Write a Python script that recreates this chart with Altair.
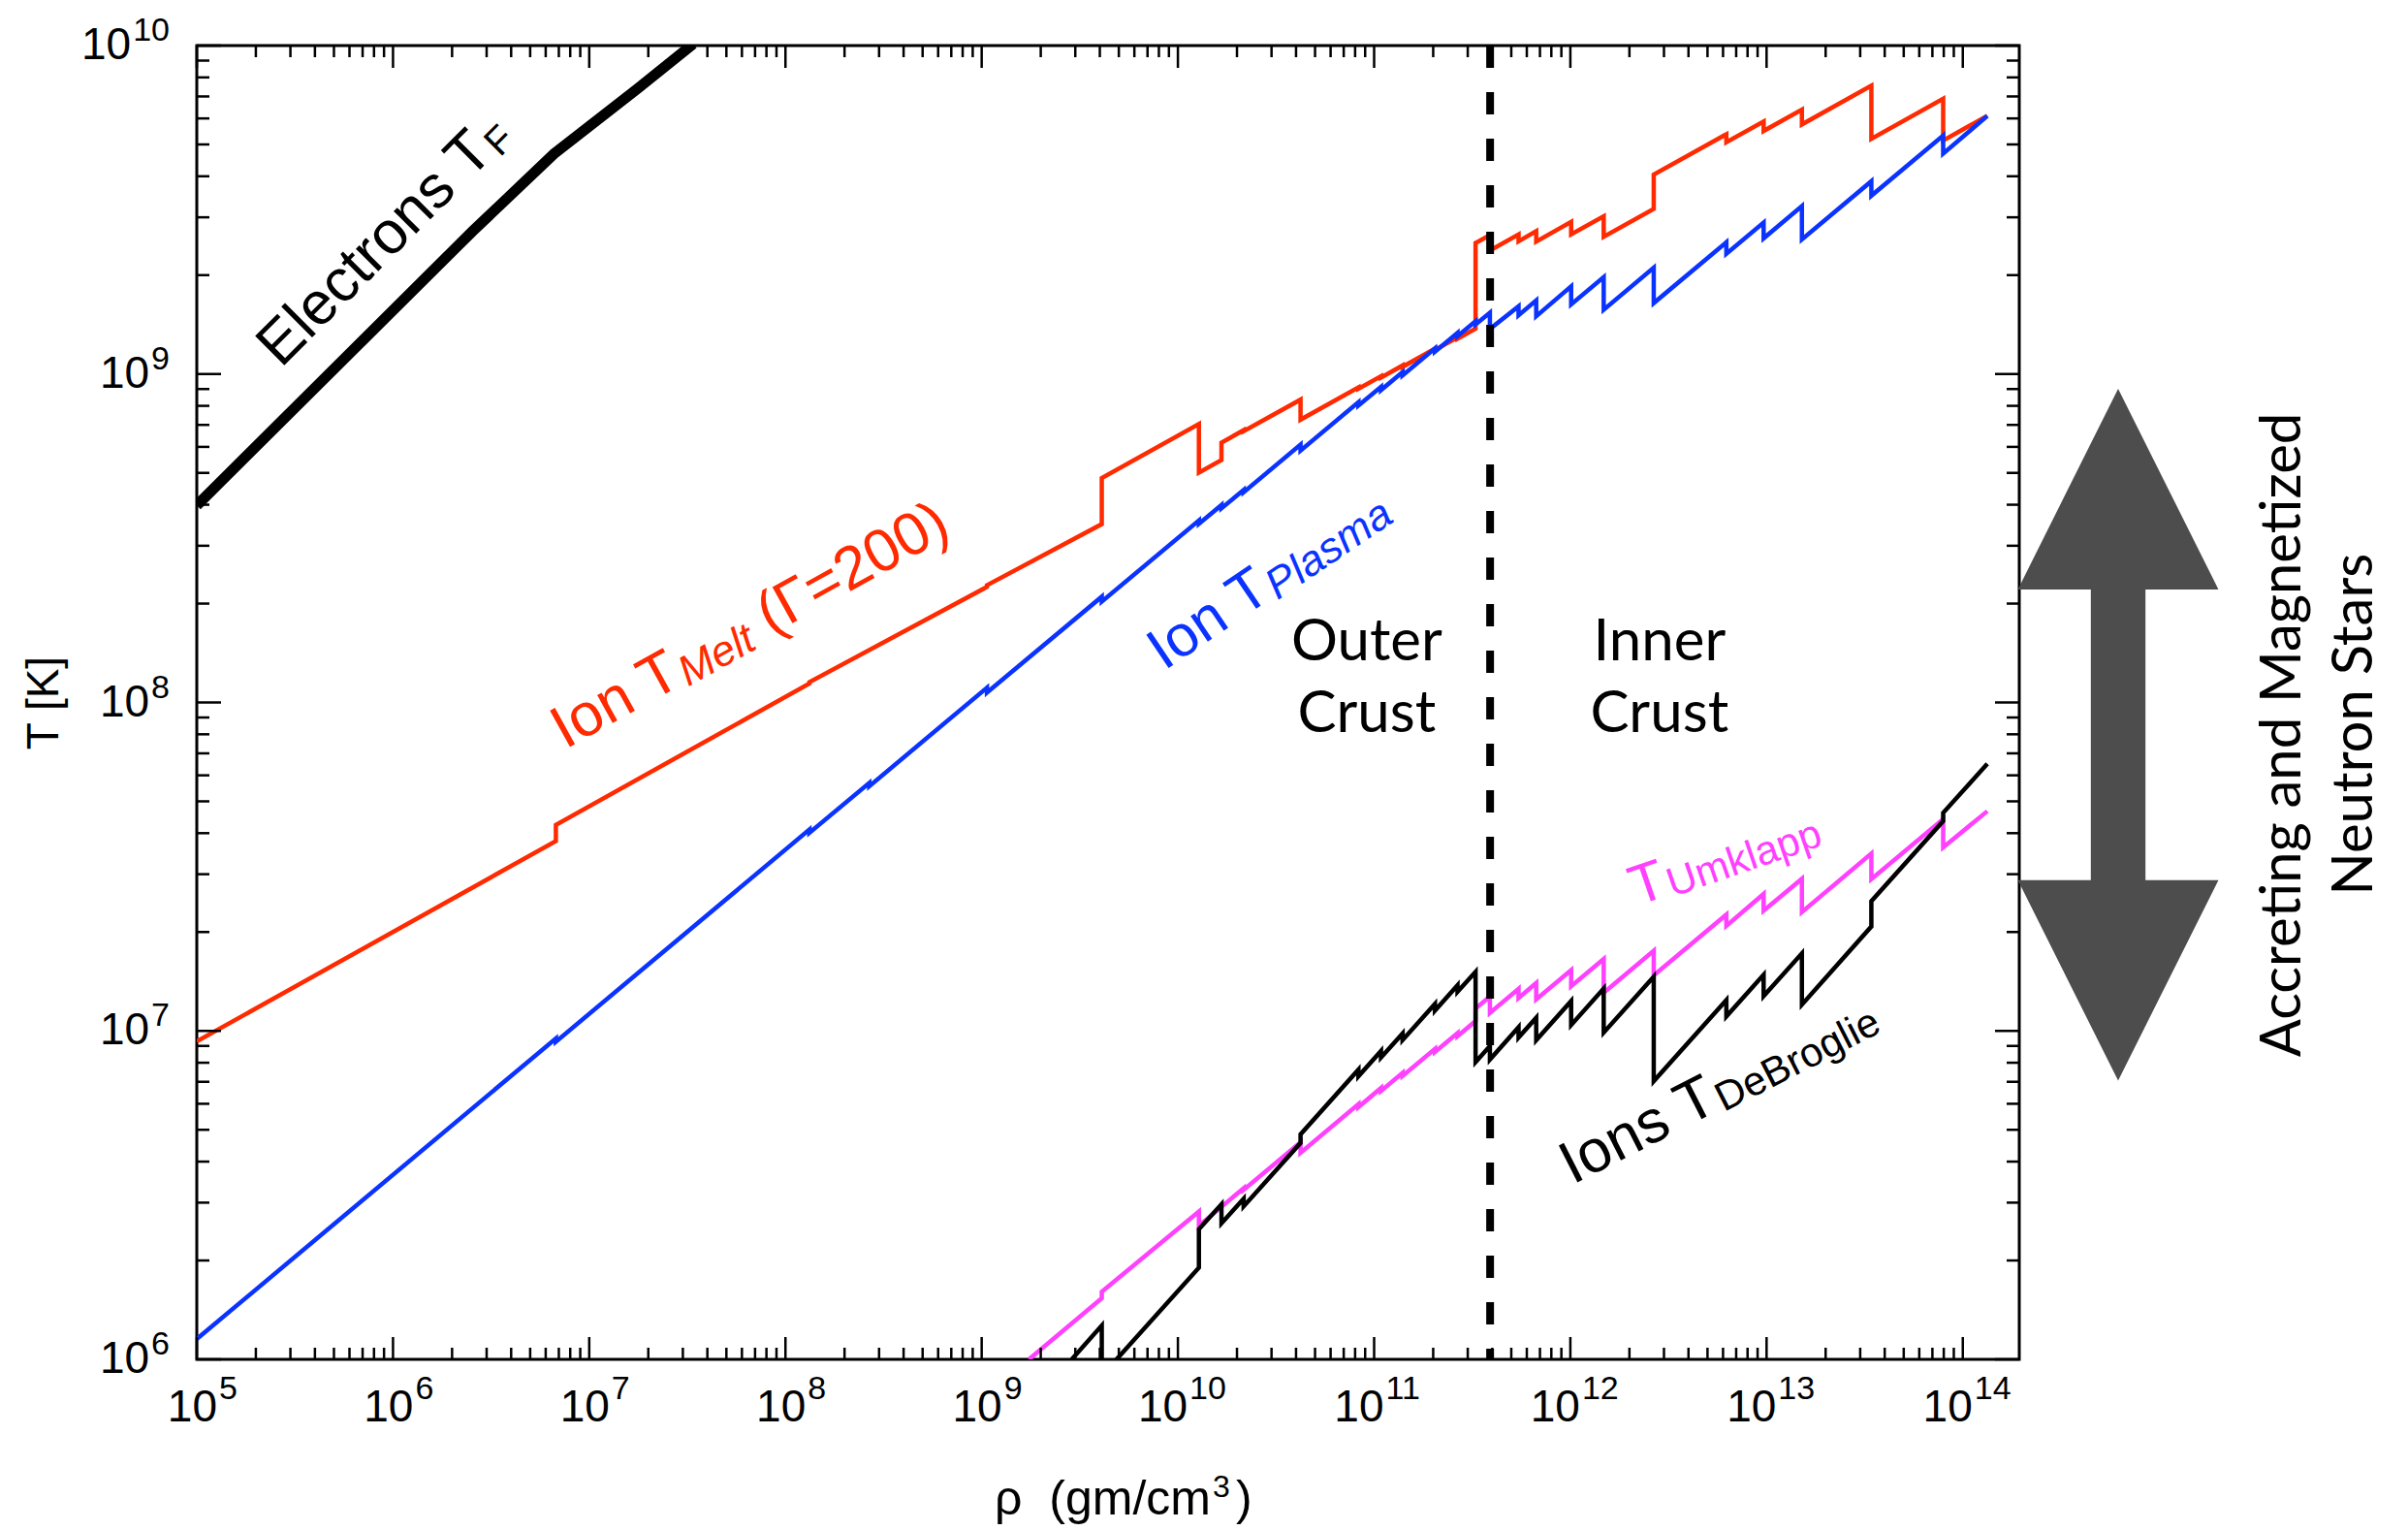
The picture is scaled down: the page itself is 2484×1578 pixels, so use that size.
import altair as alt
import numpy as np
import pandas as pd

# ---------------- geometry of the plot area (pixels) ----------------
W, H = 1880, 1355
PAD = {"left": 203, "top": 47, "right": 401, "bottom": 176}
RHO_DOMAIN = [1e5, 1.94e14]
T_DOMAIN = [1e6, 1e10]
DECADE_PX = H / 4.0

# ---------------- curves: log10(rho [g/cm^3]) and log10(T [K]) ----------------
electron_lrho = [5.00, 6.404, 6.82, 7.249, 7.53]
electron_lT = [8.600, 9.434, 9.670, 9.870, 10.005]

melt_lrho = [5.0, 6.83, 6.83, 8.122, 8.122, 9.027, 9.027, 9.612, 9.612,
             10.107, 10.107, 10.222, 10.222, 10.335, 10.335, 10.625, 10.625,
             10.92, 10.92, 11.035, 11.035, 11.145, 11.145, 11.31, 11.31,
             11.425, 11.425, 11.517, 11.517, 11.59, 11.59, 11.736, 11.736,
             11.826, 11.826, 12.004, 12.004, 12.17, 12.17, 12.425, 12.425,
             12.795, 12.795, 12.985, 12.985, 13.18, 13.18, 13.534, 13.534,
             13.9, 13.9, 14.125]
melt_lT = [6.968, 7.578, 7.627, 8.058, 8.062, 8.352, 8.357, 8.543, 8.683,
           8.848, 8.700, 8.738, 8.791, 8.829, 8.826, 8.922, 8.861,
           8.959, 8.955, 8.993, 8.989, 9.026, 9.022, 9.077, 9.073,
           9.111, 9.107, 9.138, 9.399, 9.423, 9.376, 9.425, 9.404,
           9.435, 9.403, 9.463, 9.425, 9.480, 9.418, 9.503, 9.607,
           9.730, 9.706, 9.769, 9.740, 9.805, 9.760, 9.878, 9.716,
           9.838, 9.711, 9.786]

plasma_lrho = [5.0, 6.83, 6.83, 8.122, 8.122, 8.427, 8.427, 9.027, 9.027,
               9.612, 9.612, 10.107, 10.107, 10.222, 10.222, 10.335, 10.335,
               10.625, 10.625, 10.92, 10.92, 11.035, 11.035, 11.145, 11.145,
               11.31, 11.31, 11.425, 11.425, 11.517, 11.517, 11.59, 11.59,
               11.736, 11.736, 11.826, 11.826, 12.004, 12.004, 12.17, 12.17,
               12.425, 12.425, 12.795, 12.795, 12.985, 12.985, 13.18, 13.18,
               13.534, 13.534, 13.9, 13.9, 14.125]
plasma_lT = [6.062, 6.977, 6.967, 7.613, 7.603, 7.755, 7.745, 8.045, 8.030,
             8.322, 8.307, 8.554, 8.544, 8.601, 8.591, 8.647, 8.640,
             8.785, 8.767, 8.914, 8.904, 8.961, 8.951, 9.006, 8.996,
             9.078, 9.068, 9.125, 9.115, 9.161, 9.151, 9.187, 9.137,
             9.206, 9.179, 9.224, 9.176, 9.267, 9.212, 9.295, 9.196,
             9.324, 9.216, 9.401, 9.366, 9.461, 9.413, 9.511, 9.410,
             9.587, 9.543, 9.726, 9.671, 9.786]

umklapp_lrho = [9.241, 9.612, 9.612, 10.107, 10.107, 10.335, 10.335,
                10.625, 10.625, 10.92, 10.92, 11.035, 11.035, 11.145, 11.145,
                11.31, 11.31, 11.425, 11.425, 11.517, 11.517, 11.59, 11.59,
                11.736, 11.736, 11.826, 11.826, 12.004, 12.004, 12.17, 12.17,
                12.425, 12.425, 12.795, 12.795, 12.985, 12.985, 13.18, 13.18,
                13.534, 13.534, 13.9, 13.9, 14.125]
umklapp_lT = [6.0, 6.186, 6.206, 6.450, 6.407, 6.521, 6.516,
              6.661, 6.629, 6.777, 6.768, 6.826, 6.817, 6.872, 6.863,
              6.945, 6.936, 6.993, 6.984, 7.030, 7.068, 7.105, 7.055,
              7.128, 7.100, 7.146, 7.096, 7.185, 7.136, 7.219, 7.116,
              7.244, 7.169, 7.354, 7.320, 7.417, 7.366, 7.463, 7.362,
              7.540, 7.462, 7.645, 7.559, 7.669]

debroglie_lrho = [9.459, 9.612, 9.612, 10.107, 10.107, 10.222, 10.222,
                  10.335, 10.335, 10.625, 10.625, 10.92, 10.92, 11.035, 11.035,
                  11.145, 11.145, 11.31, 11.31, 11.425, 11.425, 11.517, 11.517,
                  11.59, 11.59, 11.736, 11.736, 11.826, 11.826, 12.004, 12.004,
                  12.17, 12.17, 12.425, 12.425, 12.795, 12.795, 12.985, 12.985,
                  13.18, 13.18, 13.534, 13.534, 13.9, 13.9, 14.125]
debroglie_lT = [6.0, 6.103, 5.95, 6.279, 6.396, 6.472, 6.414,
                6.489, 6.466, 6.659, 6.685, 6.882, 6.862, 6.939, 6.919,
                6.992, 6.972, 7.082, 7.062, 7.139, 7.119, 7.180, 6.905,
                6.954, 6.913, 7.011, 6.980, 7.040, 6.972, 7.091, 7.018,
                7.129, 6.995, 7.165, 6.847, 7.094, 7.044, 7.171, 7.106,
                7.236, 7.080, 7.318, 7.395, 7.639, 7.664, 7.813]

# neutron drip: boundary between outer and inner crust
RHO_DRIP = 3.9e11

# temperature span marked by the double arrow (log10 T of the two tips)
arrow_tips_lT = [6.849, 8.955]

# tick values
x_major = [10.0 ** k for k in range(5, 15)]
x_minor = [m * 10.0 ** k for k in range(5, 15) for m in range(2, 10)
           if m * 10.0 ** k < RHO_DOMAIN[1]]
y_major = [10.0 ** k for k in range(6, 11)]
y_minor = [m * 10.0 ** k for k in range(6, 10) for m in range(2, 10)]

# ---------------- styling ----------------
SANS = "Liberation Sans, Arial, Helvetica, sans-serif"
HUMANIST = "Lato, Open Sans, sans-serif"
RED = "#ff2a00"
BLUE = "#0b33ff"
MAGENTA = "#ff40ff"
ARROW_GREY = "#4d4d4d"

# advance widths (per 1000 em) of Liberation Sans, for placing sub-scripts
ADV = {' ': 278, '(': 333, ')': 333, '=': 584, '/': 278,
       '0': 556, '1': 556, '2': 556, '3': 556, '4': 556, '5': 556,
       '6': 556, '7': 556, '8': 556, '9': 556, 'Γ': 556, 'ρ': 578,
       'B': 667, 'D': 722, 'E': 667, 'F': 611, 'I': 278, 'M': 833,
       'P': 667, 'T': 611, 'U': 722, 'a': 556, 'c': 500, 'e': 556,
       'g': 556, 'i': 222, 'k': 500, 'l': 222, 'm': 833, 'n': 556,
       'o': 556, 'p': 556, 'r': 333, 's': 500, 't': 278}


def text_width(s, size):
    return sum(ADV.get(c, 556) for c in s) / 1000.0 * size


xs = alt.Scale(type="log", domain=RHO_DOMAIN, nice=False)
ys = alt.Scale(type="log", domain=T_DOMAIN, nice=False)
X = alt.X("rho:Q", scale=xs, axis=None)
Y = alt.Y("T:Q", scale=ys, axis=None)


def curve(lrho, lT, color, width):
    df = pd.DataFrame({"rho": 10.0 ** np.array(lrho),
                       "T": 10.0 ** np.array(lT),
                       "i": np.arange(len(lrho))})
    return alt.Chart(df).mark_line(
        clip=True, color=color, strokeWidth=width, strokeCap="butt"
    ).encode(x=X, y=Y, order=alt.Order("i:Q"))


def rotated_label(at, pieces, angle, color):
    """pieces: (text, font size, font style, leading gap in em, baseline shift)"""
    df = pd.DataFrame({"rho": [10.0 ** at[0]], "T": [10.0 ** at[1]]})
    out = []
    dx = 0.0
    for text, size, style, gap, dy in pieces:
        dx += gap * size
        out.append(alt.Chart(df).mark_text(
            text=text, font=SANS, fontSize=size, fontStyle=style, angle=angle,
            align="left", baseline="alphabetic", dx=dx, dy=dy, color=color
        ).encode(x=X, y=Y))
        dx += text_width(text, size)
    return out


layers = []

# physical curves
layers.append(curve(melt_lrho, melt_lT, RED, 4.5))
layers.append(curve(plasma_lrho, plasma_lT, BLUE, 4.5))
layers.append(curve(umklapp_lrho, umklapp_lT, MAGENTA, 4.5))
layers.append(curve(debroglie_lrho, debroglie_lT, "black", 4.5))
layers.append(curve(electron_lrho, electron_lT, "black", 11))

# neutron-drip boundary
layers.append(alt.Chart(pd.DataFrame({"rho": [RHO_DRIP]})).mark_rule(
    color="black", strokeWidth=8, strokeDash=[23, 25]
).encode(x=X, y=alt.value(0), y2=alt.value(H)))

# inward ticks on all four sides
for vals, length in ((x_major, 23), (x_minor, 12)):
    tdf = pd.DataFrame({"rho": vals})
    base = alt.Chart(tdf).mark_rule(color="black", strokeWidth=2.5)
    layers.append(base.encode(x=X, y=alt.value(H), y2=alt.value(H - length)))
    layers.append(base.encode(x=X, y=alt.value(0), y2=alt.value(length)))
for vals, length in ((y_major, 25), (y_minor, 13)):
    tdf = pd.DataFrame({"T": vals})
    base = alt.Chart(tdf).mark_rule(color="black", strokeWidth=2.5)
    layers.append(base.encode(y=Y, x=alt.value(0), x2=alt.value(length)))
    layers.append(base.encode(y=Y, x=alt.value(W), x2=alt.value(W - length)))

# decade labels "10" with raised exponents
BASE_FS, EXP_FS = 46, 34
for lo, hi, base_dx, exp_dx in ((5, 9, 21, 23), (10, 14, 10, 12)):
    ldf = pd.DataFrame({"rho": [10.0 ** k for k in range(lo, hi + 1)],
                        "exp": [str(k) for k in range(lo, hi + 1)]})
    layers.append(alt.Chart(ldf).mark_text(
        text="10", font=SANS, fontSize=BASE_FS, align="right",
        baseline="alphabetic", dx=base_dx, color="black"
    ).encode(x=X, y=alt.value(H + 64)))
    layers.append(alt.Chart(ldf).mark_text(
        font=SANS, fontSize=EXP_FS, align="left", baseline="alphabetic",
        dx=exp_dx, color="black"
    ).encode(x=X, y=alt.value(H + 41), text="exp:N"))

for lo, hi in ((6, 9), (10, 10)):
    ldf = pd.DataFrame({"T": [10.0 ** k for k in range(lo, hi + 1)],
                        "exp": [str(k) for k in range(lo, hi + 1)]})
    exp_w = text_width(str(lo), EXP_FS)
    layers.append(alt.Chart(ldf).mark_text(
        text="10", font=SANS, fontSize=BASE_FS, align="right",
        baseline="alphabetic", dy=14, color="black"
    ).encode(y=Y, x=alt.value(-28 - exp_w - 2)))
    layers.append(alt.Chart(ldf).mark_text(
        font=SANS, fontSize=EXP_FS, align="right", baseline="alphabetic",
        dy=-5, color="black"
    ).encode(y=Y, x=alt.value(-28), text="exp:N"))

# axis titles
one = pd.DataFrame({"k": [0]})
layers.append(alt.Chart(one).mark_text(
    text="T [K]", font=SANS, fontSize=46, angle=270, align="center",
    baseline="alphabetic", color="black"
).encode(x=alt.value(-143), y=alt.value(678)))
layers.append(alt.Chart(one).mark_text(
    text="ρ\u00a0\u00a0(gm/cm", font=SANS, fontSize=50, align="right",
    baseline="alphabetic", color="black"
).encode(x=alt.value(1046), y=alt.value(1515)))
layers.append(alt.Chart(one).mark_text(
    text="3", font=SANS, fontSize=32, align="left",
    baseline="alphabetic", color="black"
).encode(x=alt.value(1048), y=alt.value(1497)))
layers.append(alt.Chart(one).mark_text(
    text=")", font=SANS, fontSize=50, align="left",
    baseline="alphabetic", color="black"
).encode(x=alt.value(1072), y=alt.value(1515)))

# curve labels
layers += rotated_label((5.429, 9.016),
                        [("Electrons T", 62, "normal", 0, 0),
                         ("F", 40, "normal", 0, 6)], 315, "black")
layers += rotated_label((6.877, 7.857),
                        [("Ion T", 62, "normal", 0, 0),
                         ("Melt", 44, "italic", 0.02, 5),
                         ("(Γ=200)", 62, "normal", 0.278, 0)], 331, RED)
layers += rotated_label((9.930, 8.096),
                        [("Ion T", 60, "normal", 0, 0),
                         ("Plasma", 44, "italic", 0.02, 5)], 326, BLUE)
layers += rotated_label((12.340, 7.380),
                        [("T", 58, "normal", 0, 0),
                         ("Umklapp", 42, "normal", 0.05, 3)], 341, MAGENTA)
layers += rotated_label((12.011, 6.531),
                        [("Ions T", 62, "normal", 0, 0),
                         ("DeBroglie", 42, "normal", 0.02, 4)], 333, "black")

# crust regions
crust_df = pd.DataFrame({
    "rho": [10 ** 10.9625, 10 ** 10.9625, 10 ** 12.454, 10 ** 12.454],
    "T": [10 ** 8.128, 10 ** 7.910, 10 ** 8.128, 10 ** 7.910],
    "label": ["Outer", "Crust", "Inner", "Crust"],
})
layers.append(alt.Chart(crust_df).mark_text(
    font=HUMANIST, fontSize=60, align="center", baseline="alphabetic",
    color="black"
).encode(x=X, y=Y, text="label:N"))

# double arrow beside the frame, spanning the marked temperature range
half_px = (arrow_tips_lT[1] - arrow_tips_lT[0]) / 2.0 * DECADE_PX
ARROW_PATH = ("M0,-1 L0.29,-0.42 L0.079,-0.42 L0.079,0.421 L0.29,0.421 "
              "L0,1 L-0.29,0.421 L-0.079,0.421 L-0.079,-0.42 L-0.29,-0.42 Z")
arrow_df = pd.DataFrame({"T": [10.0 ** (sum(arrow_tips_lT) / 2.0)]})
layers.append(alt.Chart(arrow_df).mark_point(
    shape=ARROW_PATH, filled=True, color=ARROW_GREY, fill=ARROW_GREY,
    opacity=1, strokeWidth=0, size=(2 * half_px) ** 2
).encode(x=alt.value(W + 102), y=Y))

layers.append(alt.Chart(one).mark_text(
    text="Accreting and Magnetized", font=HUMANIST, fontSize=58, angle=270,
    align="center", baseline="alphabetic", color="black"
).encode(x=alt.value(W + 290), y=alt.value(711)))
layers.append(alt.Chart(one).mark_text(
    text="Neutron Stars", font=HUMANIST, fontSize=58, angle=270,
    align="center", baseline="alphabetic", color="black"
).encode(x=alt.value(W + 364), y=alt.value(700)))

chart = alt.layer(*layers).properties(
    width=W, height=H,
    autosize=alt.AutoSizeParams(type="none"),
    padding=PAD,
    background="white",
).configure_view(stroke="black", strokeWidth=3)

chart.save("out.html", embed_options={"renderer": "svg", "actions": False})
